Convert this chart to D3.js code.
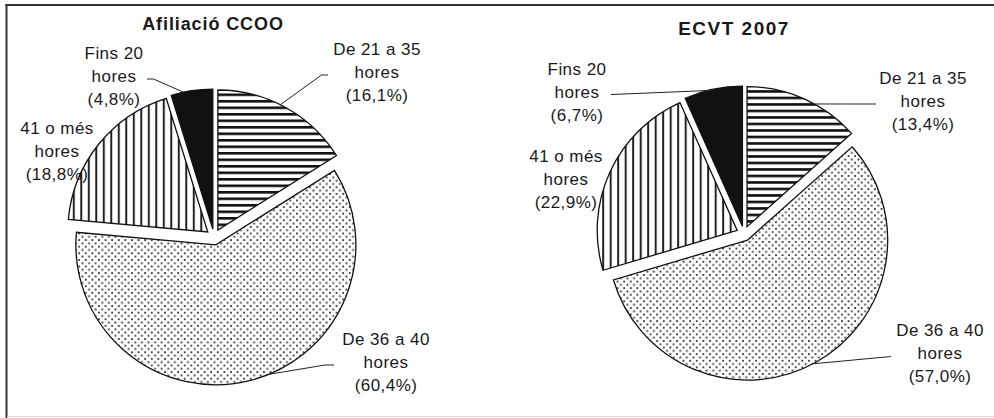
<!DOCTYPE html>
<html>
<head>
<meta charset="utf-8">
<script src="https://d3js.org/d3.v7.min.js"></script>
<style>
  body { margin: 0; background: #fff; }
  text { font-family: Arial, "Liberation Sans", sans-serif; fill: #1a1a1a; }
</style>
</head>
<body>
<svg id="chart" width="994" height="418"></svg>
<script>
// slices go clockwise from 12 o'clock
var categories = [["De 21 a 35", "hores"], ["De 36 a 40", "hores"], ["41 o més", "hores"], ["Fins 20", "hores"]];
var titles = ["Afiliació CCOO", "ECVT 2007"];
var afiliacio = [16.1, 60.4, 18.8, 4.8];
var ecvt = [13.4, 57.0, 22.9, 6.7];
var fills = ["url(#hstripe)", "url(#dots)", "url(#vstripe)", "#111"];

// where things sit on the page (label x = text centre, y = first baseline)
var layout = [
  { cx: 214, cy: 237, r: 140, explode: 8, tx: 213, ty: 30, tsize: 18, tls: 0.9,
    labels: [
      { x: 377, y: 55, lead: [[328, 75], [321.5, 75]], at: 26.5 },
      { x: 386, y: 345, lead: [[334, 365], [325, 365]], at: 157.7 },
      { x: 57, y: 134, lead: null },
      { x: 114, y: 59, lead: [[147, 79], [153.5, 79]], at: 347.9 }
    ] },
  { cx: 744, cy: 233.5, r: 140, explode: 7.5, tx: 734, ty: 35, tsize: 19, tls: 1.5,
    labels: [
      { x: 923, y: 84, lead: [[876, 104]], at: 28.8 },
      { x: 940, y: 336, lead: [[891, 356.5]], at: 152.1 },
      { x: 566, y: 162, lead: null },
      { x: 577, y: 75, lead: [[611, 94.5]], at: 345.6 }
    ] }
];

var svg = d3.select("#chart");
var defs = svg.append("defs");

// fill patterns
var hs = defs.append("pattern").attr("id", "hstripe").attr("patternUnits", "userSpaceOnUse")
    .attr("width", 8).attr("height", 6.5);
hs.append("rect").attr("width", 8).attr("height", 6.5).attr("fill", "#fff");
hs.append("rect").attr("y", 0).attr("width", 8).attr("height", 2.6).attr("fill", "#111");

var vs = defs.append("pattern").attr("id", "vstripe").attr("patternUnits", "userSpaceOnUse")
    .attr("width", 7.5).attr("height", 8);
vs.append("rect").attr("width", 7.5).attr("height", 8).attr("fill", "#fff");
vs.append("rect").attr("x", 0).attr("width", 2).attr("height", 8).attr("fill", "#222");

var ds = defs.append("pattern").attr("id", "dots").attr("patternUnits", "userSpaceOnUse")
    .attr("width", 6.6).attr("height", 6.6);
ds.append("rect").attr("width", 6.6).attr("height", 6.6).attr("fill", "#fff");
ds.append("rect").attr("x", 1).attr("y", 1).attr("width", 1.8).attr("height", 1.8).attr("fill", "#333");
ds.append("rect").attr("x", 4.3).attr("y", 4.3).attr("width", 1.8).attr("height", 1.8).attr("fill", "#333");

// frame
svg.append("line").attr("x1", 6.5).attr("x2", 6.5).attr("y1", 4).attr("y2", 418)
    .attr("stroke", "#333").attr("stroke-width", 2);
svg.append("line").attr("x1", 5.5).attr("x2", 994).attr("y1", 5).attr("y2", 5)
    .attr("stroke", "#333").attr("stroke-width", 2);
svg.append("line").attr("x1", 7).attr("x2", 994).attr("y1", 416.5).attr("y2", 416.5)
    .attr("stroke", "#ddd").attr("stroke-width", 1);

var fmt = function (v) { return d3.format(".1f")(v).replace(".", ","); };
var pie = d3.pie().sort(null).value(function (d) { return d; });

[afiliacio, ecvt].forEach(function (values, ci) {
  var L = layout[ci];
  var arc = d3.arc().innerRadius(0).outerRadius(L.r);
  var arcs = pie(values);

  // slice centre after explosion
  var sliceCentre = function (d) {
    var m = (d.startAngle + d.endAngle) / 2;
    return [L.cx + L.explode * Math.sin(m), L.cy - L.explode * Math.cos(m)];
  };

  var g = svg.append("g");

  g.selectAll("path.slice")
    .data(arcs)
    .enter()
    .append("path")
    .attr("class", "slice")
    .attr("transform", function (d) { var c = sliceCentre(d); return "translate(" + c[0] + "," + c[1] + ")"; })
    .attr("d", arc)
    .attr("fill", function (d, i) { return fills[i]; })
    .attr("stroke", "#111")
    .attr("stroke-width", 1.3)
    .attr("stroke-linejoin", "miter");

  // leader lines
  arcs.forEach(function (d, i) {
    var lab = L.labels[i];
    if (!lab.lead) return;
    var c = sliceCentre(d);
    var a = lab.at * Math.PI / 180;
    var pts = lab.lead.concat([[c[0] + L.r * Math.sin(a), c[1] - L.r * Math.cos(a)]]);
    g.append("path")
      .attr("d", d3.line()(pts))
      .attr("fill", "none")
      .attr("stroke", "#222")
      .attr("stroke-width", 1);
  });

  // labels
  arcs.forEach(function (d, i) {
    var lab = L.labels[i];
    var lines = categories[i].concat(["(" + fmt(values[i]) + "%)"]);
    var t = g.append("text")
      .attr("text-anchor", "middle")
      .attr("font-size", "17px")
      .attr("letter-spacing", "0.45px");
    lines.forEach(function (s, k) {
      t.append("tspan").attr("x", lab.x).attr("y", lab.y + k * 23).text(s);
    });
  });

  // title
  g.append("text")
    .attr("x", L.tx)
    .attr("y", L.ty)
    .attr("text-anchor", "middle")
    .attr("font-size", L.tsize + "px")
    .attr("letter-spacing", L.tls + "px")
    .style("font-weight", "bold")
    .text(titles[ci]);
});
</script>
</body>
</html>
